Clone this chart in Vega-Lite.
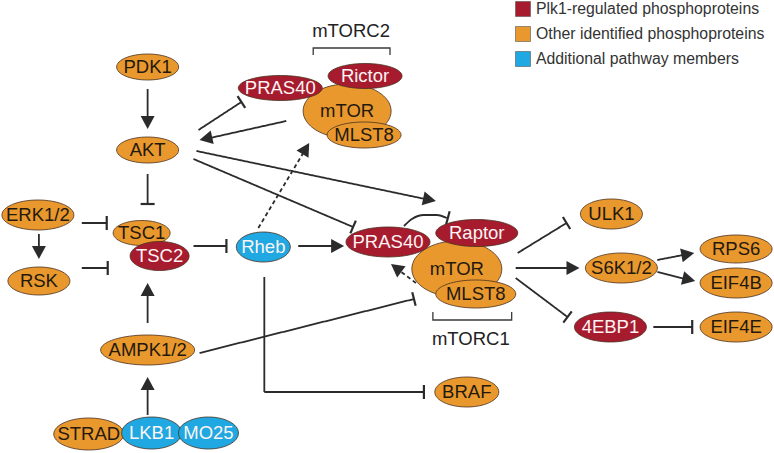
{
  "$schema": "https://vega.github.io/schema/vega-lite/v6.json",
  "width": 774,
  "height": 453,
  "autosize": {"type": "fit", "contains": "padding"},
  "padding": 0,
  "background": "white",
  "config": {"view": {"stroke": null}},
  "datasets": {
    "nodes": [
      {"id": "PDK1", "label": "PDK1", "x": 146, "y": 67, "group": "Other identified phosphoproteins"},
      {"id": "AKT", "label": "AKT", "x": 146, "y": 150, "group": "Other identified phosphoproteins"},
      {"id": "mTOR_2", "label": "mTOR", "x": 346, "y": 111, "group": "Other identified phosphoproteins"},
      {"id": "PRAS40_2", "label": "PRAS40", "x": 279, "y": 88, "group": "Plk1-regulated phosphoproteins"},
      {"id": "Rictor", "label": "Rictor", "x": 364, "y": 76, "group": "Plk1-regulated phosphoproteins"},
      {"id": "MLST8_2", "label": "MLST8", "x": 363, "y": 135, "group": "Other identified phosphoproteins"},
      {"id": "ERK", "label": "ERK1/2", "x": 36, "y": 215, "group": "Other identified phosphoproteins"},
      {"id": "RSK", "label": "RSK", "x": 37, "y": 281, "group": "Other identified phosphoproteins"},
      {"id": "TSC1", "label": "TSC1", "x": 140, "y": 233, "group": "Other identified phosphoproteins"},
      {"id": "TSC2", "label": "TSC2", "x": 158, "y": 256, "group": "Plk1-regulated phosphoproteins"},
      {"id": "Rheb", "label": "Rheb", "x": 262, "y": 247, "group": "Additional pathway members"},
      {"id": "AMPK", "label": "AMPK1/2", "x": 146, "y": 350, "group": "Other identified phosphoproteins"},
      {"id": "STRAD", "label": "STRAD", "x": 87, "y": 434, "group": "Other identified phosphoproteins"},
      {"id": "LKB1", "label": "LKB1", "x": 150, "y": 433, "group": "Additional pathway members"},
      {"id": "MO25", "label": "MO25", "x": 207, "y": 433, "group": "Additional pathway members"},
      {"id": "mTOR_1", "label": "mTOR", "x": 456, "y": 269, "group": "Other identified phosphoproteins"},
      {"id": "PRAS40_1", "label": "PRAS40", "x": 387, "y": 242, "group": "Plk1-regulated phosphoproteins"},
      {"id": "Raptor", "label": "Raptor", "x": 476, "y": 233, "group": "Plk1-regulated phosphoproteins"},
      {"id": "MLST8_1", "label": "MLST8", "x": 475, "y": 294, "group": "Other identified phosphoproteins"},
      {"id": "ULK1", "label": "ULK1", "x": 611, "y": 214, "group": "Other identified phosphoproteins"},
      {"id": "S6K", "label": "S6K1/2", "x": 621, "y": 268, "group": "Other identified phosphoproteins"},
      {"id": "RPS6", "label": "RPS6", "x": 736, "y": 249, "group": "Other identified phosphoproteins"},
      {"id": "EIF4B", "label": "EIF4B", "x": 736, "y": 283, "group": "Other identified phosphoproteins"},
      {"id": "4EBP1", "label": "4EBP1", "x": 610, "y": 327, "group": "Plk1-regulated phosphoproteins"},
      {"id": "EIF4E", "label": "EIF4E", "x": 736, "y": 327, "group": "Other identified phosphoproteins"},
      {"id": "BRAF", "label": "BRAF", "x": 466, "y": 392, "group": "Other identified phosphoproteins"}
    ],
    "edges": [
      {"edge": "PDK1-AKT", "style": "solid", "seq": 1, "x": 146, "y": 89},
      {"edge": "PDK1-AKT", "style": "solid", "seq": 2, "x": 146, "y": 123},
      {"edge": "AKT-PRAS40c2", "style": "solid", "seq": 1, "x": 197, "y": 130},
      {"edge": "AKT-PRAS40c2", "style": "solid", "seq": 2, "x": 240, "y": 102},
      {"edge": "mTORC2-AKT", "style": "solid", "seq": 1, "x": 285, "y": 121},
      {"edge": "mTORC2-AKT", "style": "solid", "seq": 2, "x": 204, "y": 139},
      {"edge": "AKT-TSC1", "style": "solid", "seq": 1, "x": 146, "y": 174},
      {"edge": "AKT-TSC1", "style": "solid", "seq": 2, "x": 146, "y": 204},
      {"edge": "AKT-Raptor", "style": "solid", "seq": 1, "x": 195, "y": 151},
      {"edge": "AKT-Raptor", "style": "solid", "seq": 2, "x": 429, "y": 200},
      {"edge": "AKT-PRAS40c1", "style": "solid", "seq": 1, "x": 192, "y": 159},
      {"edge": "AKT-PRAS40c1", "style": "solid", "seq": 2, "x": 352, "y": 227},
      {"edge": "Rheb-mTORC2", "style": "dashed", "seq": 1, "x": 257, "y": 228},
      {"edge": "Rheb-mTORC2", "style": "dashed", "seq": 2, "x": 305, "y": 148},
      {"edge": "ERK-TSC1", "style": "solid", "seq": 1, "x": 80, "y": 223},
      {"edge": "ERK-TSC1", "style": "solid", "seq": 2, "x": 105, "y": 223},
      {"edge": "ERK-RSK", "style": "solid", "seq": 1, "x": 37, "y": 234},
      {"edge": "ERK-RSK", "style": "solid", "seq": 2, "x": 37, "y": 253},
      {"edge": "RSK-TSC2", "style": "solid", "seq": 1, "x": 80, "y": 268},
      {"edge": "RSK-TSC2", "style": "solid", "seq": 2, "x": 106, "y": 268},
      {"edge": "TSC2-Rheb", "style": "solid", "seq": 1, "x": 192, "y": 246},
      {"edge": "TSC2-Rheb", "style": "solid", "seq": 2, "x": 225, "y": 246},
      {"edge": "Rheb-PRAS40c1", "style": "solid", "seq": 1, "x": 297, "y": 246},
      {"edge": "Rheb-PRAS40c1", "style": "solid", "seq": 2, "x": 337, "y": 246},
      {"edge": "AMPK-TSC2", "style": "solid", "seq": 1, "x": 146, "y": 323},
      {"edge": "AMPK-TSC2", "style": "solid", "seq": 2, "x": 146, "y": 289},
      {"edge": "LKB1-AMPK", "style": "solid", "seq": 1, "x": 146, "y": 415},
      {"edge": "LKB1-AMPK", "style": "solid", "seq": 2, "x": 146, "y": 383},
      {"edge": "AMPK-mTORC1", "style": "solid", "seq": 1, "x": 198, "y": 353},
      {"edge": "AMPK-mTORC1", "style": "solid", "seq": 2, "x": 413, "y": 299},
      {"edge": "Rheb-BRAF", "style": "solid", "seq": 1, "x": 263, "y": 277},
      {"edge": "Rheb-BRAF", "style": "solid", "seq": 2, "x": 263, "y": 392},
      {"edge": "Rheb-BRAF", "style": "solid", "seq": 3, "x": 423, "y": 392},
      {"edge": "mTORC1-PRAS40c1", "style": "dashed", "seq": 1, "x": 415, "y": 283},
      {"edge": "mTORC1-PRAS40c1", "style": "dashed", "seq": 2, "x": 395, "y": 268},
      {"edge": "mTORC1-ULK1", "style": "solid", "seq": 1, "x": 517, "y": 253},
      {"edge": "mTORC1-ULK1", "style": "solid", "seq": 2, "x": 566, "y": 223},
      {"edge": "mTORC1-S6K", "style": "solid", "seq": 1, "x": 515, "y": 268},
      {"edge": "mTORC1-S6K", "style": "solid", "seq": 2, "x": 573, "y": 268},
      {"edge": "mTORC1-4EBP1", "style": "solid", "seq": 1, "x": 515, "y": 278},
      {"edge": "mTORC1-4EBP1", "style": "solid", "seq": 2, "x": 567, "y": 317},
      {"edge": "S6K-RPS6", "style": "solid", "seq": 1, "x": 657, "y": 260},
      {"edge": "S6K-RPS6", "style": "solid", "seq": 2, "x": 688, "y": 254},
      {"edge": "S6K-EIF4B", "style": "solid", "seq": 1, "x": 657, "y": 272},
      {"edge": "S6K-EIF4B", "style": "solid", "seq": 2, "x": 689, "y": 280},
      {"edge": "4EBP1-EIF4E", "style": "solid", "seq": 1, "x": 653, "y": 327},
      {"edge": "4EBP1-EIF4E", "style": "solid", "seq": 2, "x": 692, "y": 327}
    ],
    "curve": [
      {"edge": "PRAS40-Raptor", "seq": 1, "x": 403, "y": 226},
      {"edge": "PRAS40-Raptor", "seq": 2, "x": 411, "y": 219},
      {"edge": "PRAS40-Raptor", "seq": 3, "x": 423, "y": 215},
      {"edge": "PRAS40-Raptor", "seq": 4, "x": 436, "y": 215},
      {"edge": "PRAS40-Raptor", "seq": 5, "x": 446, "y": 218}
    ],
    "heads": [
      {"kind": "arrow", "x": 146, "y": 129, "angle": 180},
      {"kind": "bar", "x": 240, "y": 102, "angle": 57},
      {"kind": "arrow", "x": 198, "y": 140, "angle": 257.7},
      {"kind": "bar", "x": 146, "y": 204, "angle": 0},
      {"kind": "arrow", "x": 435, "y": 201, "angle": 101.8},
      {"kind": "bar", "x": 352, "y": 227, "angle": 113},
      {"kind": "arrow", "x": 308, "y": 143, "angle": 31},
      {"kind": "bar", "x": 105, "y": 223, "angle": 90},
      {"kind": "arrow", "x": 37, "y": 259, "angle": 180},
      {"kind": "bar", "x": 106, "y": 268, "angle": 90},
      {"kind": "bar", "x": 225, "y": 246, "angle": 90},
      {"kind": "arrow", "x": 343, "y": 246, "angle": 90},
      {"kind": "arrow", "x": 146, "y": 283, "angle": 0},
      {"kind": "arrow", "x": 146, "y": 377, "angle": 0},
      {"kind": "bar", "x": 413, "y": 299, "angle": 76},
      {"kind": "bar", "x": 423, "y": 392, "angle": 90},
      {"kind": "arrow", "x": 390, "y": 264, "angle": 307.2},
      {"kind": "bar", "x": 447, "y": 218, "angle": 105},
      {"kind": "bar", "x": 566, "y": 223, "angle": 58.5},
      {"kind": "arrow", "x": 579, "y": 268, "angle": 90},
      {"kind": "bar", "x": 567, "y": 317, "angle": 127},
      {"kind": "arrow", "x": 694, "y": 253, "angle": 79.3},
      {"kind": "arrow", "x": 695, "y": 281, "angle": 103.3},
      {"kind": "bar", "x": 692, "y": 327, "angle": 90}
    ],
    "brackets": [
      {"bracket": "mTORC2", "seq": 1, "x": 312, "y": 55},
      {"bracket": "mTORC2", "seq": 2, "x": 312, "y": 48},
      {"bracket": "mTORC2", "seq": 3, "x": 389, "y": 48},
      {"bracket": "mTORC2", "seq": 4, "x": 389, "y": 55},
      {"bracket": "mTORC1", "seq": 1, "x": 432, "y": 312},
      {"bracket": "mTORC1", "seq": 2, "x": 432, "y": 320},
      {"bracket": "mTORC1", "seq": 3, "x": 511, "y": 320},
      {"bracket": "mTORC1", "seq": 4, "x": 511, "y": 312}
    ],
    "complexes": [
      {"label": "mTORC2", "x": 350, "y": 31},
      {"label": "mTORC1", "x": 470, "y": 339}
    ]
  },
  "encoding": {
    "x": {"field": "x", "type": "quantitative", "scale": {"domain": [0, 774], "nice": false, "zero": false}, "axis": null},
    "y": {"field": "y", "type": "quantitative", "scale": {"domain": [0, 453], "nice": false, "zero": false, "reverse": true}, "axis": null}
  },
  "layer": [
    {
      "data": {"name": "brackets"},
      "mark": {"type": "line", "stroke": "#3a3a3a", "strokeWidth": 1.3},
      "encoding": {"detail": {"field": "bracket"}, "order": {"field": "seq", "type": "quantitative"}}
    },
    {
      "data": {"name": "edges"},
      "mark": {"type": "line", "stroke": "#2b2b2b", "strokeWidth": 1.8},
      "encoding": {
        "detail": {"field": "edge"},
        "order": {"field": "seq", "type": "quantitative"},
        "strokeDash": {"field": "style", "type": "nominal", "scale": {"domain": ["solid", "dashed"], "range": [[1, 0], [4, 3]]}, "legend": null}
      }
    },
    {
      "data": {"name": "curve"},
      "mark": {"type": "line", "stroke": "#2b2b2b", "strokeWidth": 1.8, "interpolate": "monotone"},
      "encoding": {"detail": {"field": "edge"}, "order": {"field": "seq", "type": "quantitative"}}
    },
    {
      "data": {"name": "heads"},
      "transform": [{"filter": "datum.kind === 'arrow'"}],
      "mark": {"type": "point", "shape": "M0,0L-7,13L7,13Z", "size": 4, "filled": true, "fill": "#2b2b2b", "strokeWidth": 0, "opacity": 1},
      "encoding": {"angle": {"field": "angle", "type": "quantitative", "scale": null}}
    },
    {
      "data": {"name": "heads"},
      "transform": [{"filter": "datum.kind === 'bar'"}],
      "mark": {"type": "point", "shape": "M-7,0L7,0", "size": 4, "filled": false, "stroke": "#2b2b2b", "strokeWidth": 2.2, "opacity": 1},
      "encoding": {"angle": {"field": "angle", "type": "quantitative", "scale": null}}
    },
    {
      "data": {"name": "nodes"},
      "mark": {"type": "point", "filled": true, "size": 4, "opacity": 1, "stroke": "#4a3020", "strokeWidth": 0.8},
      "encoding": {
        "color": {
          "field": "group",
          "type": "nominal",
          "scale": {
            "domain": ["Plk1-regulated phosphoproteins", "Other identified phosphoproteins", "Additional pathway members"],
            "range": ["#a61c2e", "#e9982d", "#1fa8e1"]
          },
          "legend": {
            "title": null,
            "orient": "none",
            "legendX": 513,
            "legendY": 1,
            "padding": 0,
            "symbolType": "square",
            "symbolSize": 225,
            "symbolStrokeColor": "#555555",
            "symbolStrokeWidth": 0.6,
            "symbolOpacity": 1,
            "labelFont": "Liberation Sans",
            "labelFontSize": 15.8,
            "labelColor": "#333333",
            "labelOffset": 5,
            "labelLimit": 400,
            "rowPadding": 7
          }
        },
        "shape": {
          "field": "id",
          "type": "nominal",
          "legend": null,
          "scale": {
            "domain": ["PDK1", "AKT", "mTOR_2", "PRAS40_2", "Rictor", "MLST8_2", "ERK", "RSK", "TSC1", "TSC2", "Rheb", "AMPK", "STRAD", "LKB1", "MO25", "mTOR_1", "PRAS40_1", "Raptor", "MLST8_1", "ULK1", "S6K", "RPS6", "EIF4B", "4EBP1", "EIF4E", "BRAF"],
            "range": [
              "M-31,0A31,13,0,1,1,31,0A31,13,0,1,1,-31,0Z",
              "M-31,0A31,13,0,1,1,31,0A31,13,0,1,1,-31,0Z",
              "M-44,0A44,27,0,1,1,44,0A44,27,0,1,1,-44,0Z",
              "M-42,0A42,12.5,0,1,1,42,0A42,12.5,0,1,1,-42,0Z",
              "M-37,0A37,12.5,0,1,1,37,0A37,12.5,0,1,1,-37,0Z",
              "M-37,0A37,13,0,1,1,37,0A37,13,0,1,1,-37,0Z",
              "M-36,0A36,15,0,1,1,36,0A36,15,0,1,1,-36,0Z",
              "M-31,0A31,14,0,1,1,31,0A31,14,0,1,1,-31,0Z",
              "M-28.5,0A28.5,12.5,0,1,1,28.5,0A28.5,12.5,0,1,1,-28.5,0Z",
              "M-29.5,0A29.5,14.5,0,1,1,29.5,0A29.5,14.5,0,1,1,-29.5,0Z",
              "M-27,0A27,15,0,1,1,27,0A27,15,0,1,1,-27,0Z",
              "M-47,0A47,15,0,1,1,47,0A47,15,0,1,1,-47,0Z",
              "M-35,0A35,16,0,1,1,35,0A35,16,0,1,1,-35,0Z",
              "M-30,0A30,16,0,1,1,30,0A30,16,0,1,1,-30,0Z",
              "M-30,0A30,16,0,1,1,30,0A30,16,0,1,1,-30,0Z",
              "M-45,0A45,28,0,1,1,45,0A45,28,0,1,1,-45,0Z",
              "M-42,0A42,15,0,1,1,42,0A42,15,0,1,1,-42,0Z",
              "M-41,0A41,13.5,0,1,1,41,0A41,13.5,0,1,1,-41,0Z",
              "M-40,0A40,14,0,1,1,40,0A40,14,0,1,1,-40,0Z",
              "M-31,0A31,15,0,1,1,31,0A31,15,0,1,1,-31,0Z",
              "M-36,0A36,15,0,1,1,36,0A36,15,0,1,1,-36,0Z",
              "M-36,0A36,14,0,1,1,36,0A36,14,0,1,1,-36,0Z",
              "M-36,0A36,15,0,1,1,36,0A36,15,0,1,1,-36,0Z",
              "M-36,0A36,15,0,1,1,36,0A36,15,0,1,1,-36,0Z",
              "M-36,0A36,15,0,1,1,36,0A36,15,0,1,1,-36,0Z",
              "M-32,0A32,15,0,1,1,32,0A32,15,0,1,1,-32,0Z"
            ]
          }
        }
      }
    },
    {
      "data": {"name": "nodes"},
      "mark": {"type": "text", "font": "Liberation Sans", "fontSize": 18.5, "align": "center", "baseline": "middle"},
      "encoding": {
        "text": {"field": "label"},
        "color": {"condition": {"test": "datum.group === 'Other identified phosphoproteins'", "value": "#24190e"}, "value": "#fdf3f3"}
      }
    },
    {
      "data": {"name": "complexes"},
      "mark": {"type": "text", "font": "Liberation Sans", "fontSize": 18.5, "align": "center", "baseline": "middle", "color": "#222222"},
      "encoding": {"text": {"field": "label"}}
    }
  ]
}
